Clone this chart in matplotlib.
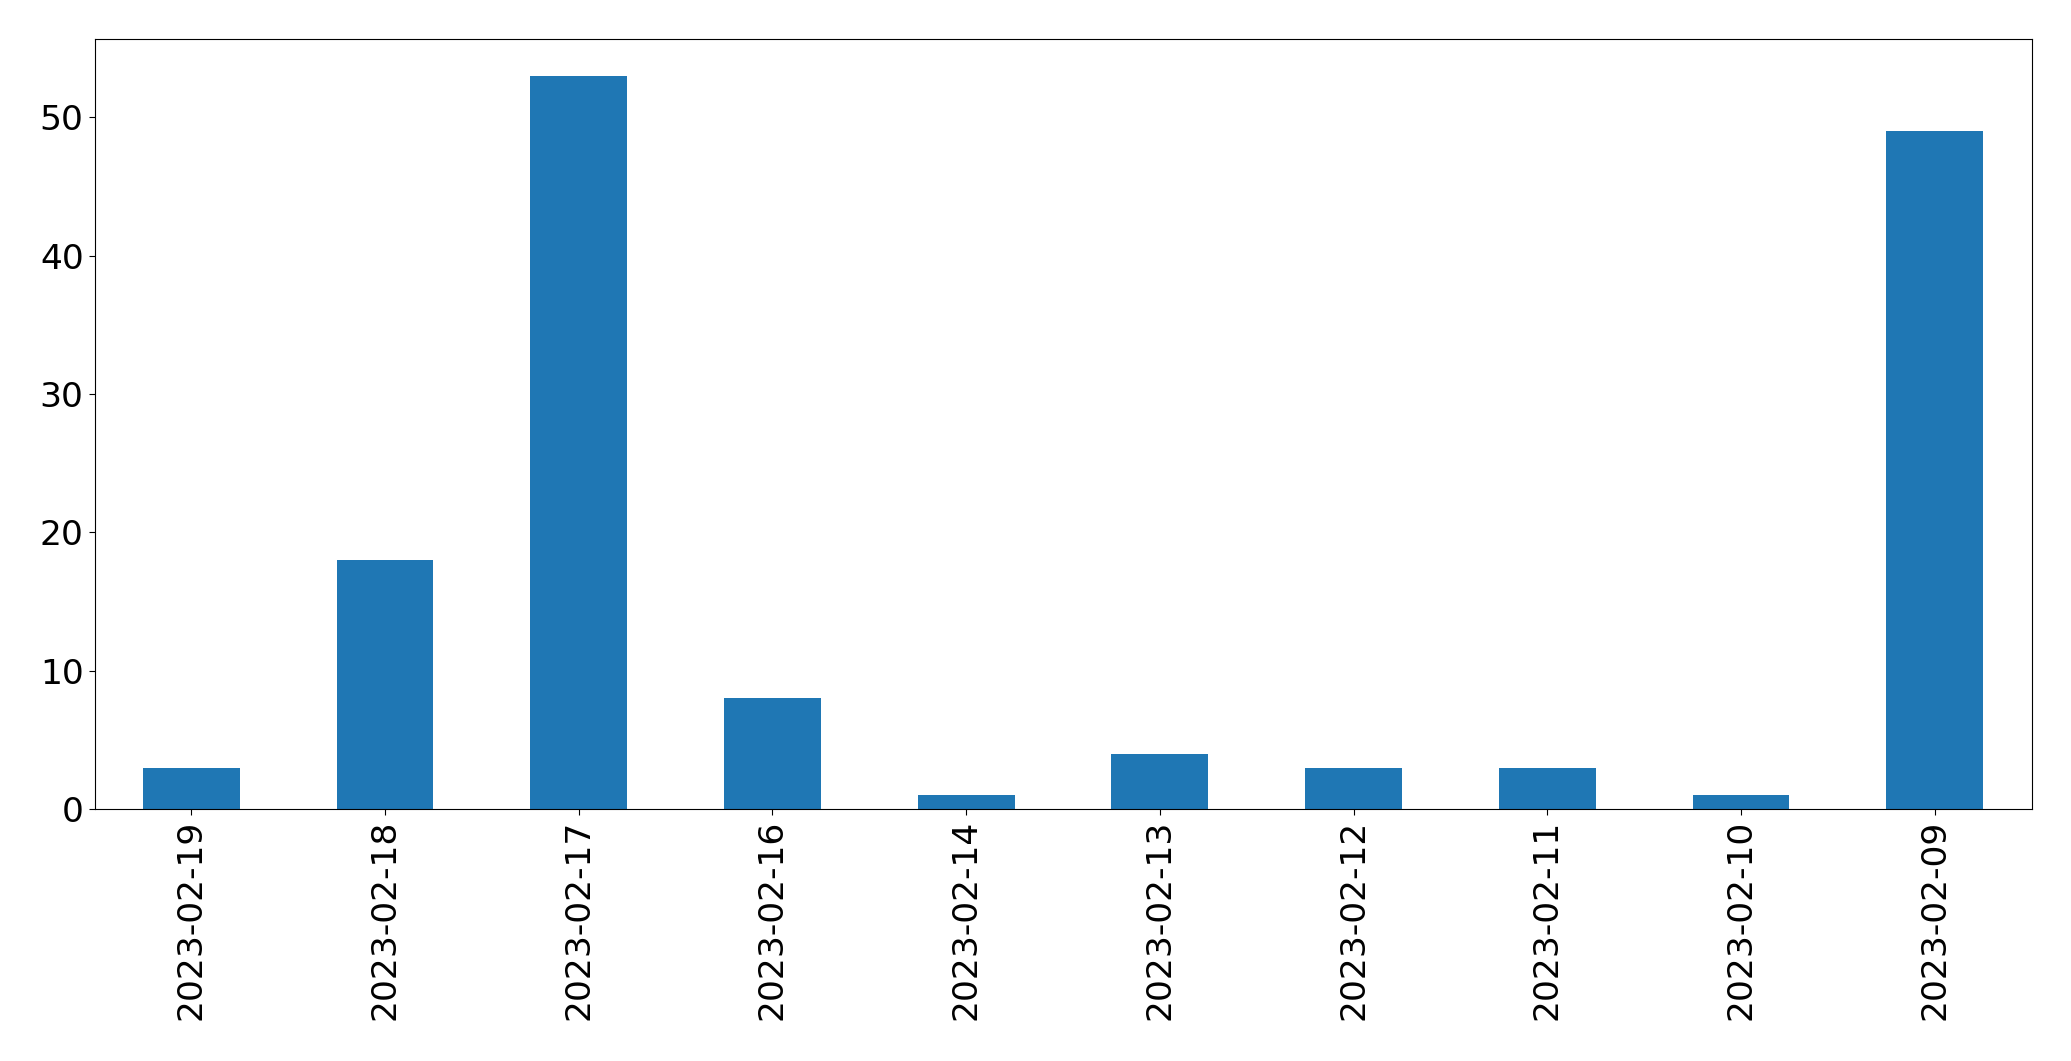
import matplotlib
matplotlib.use("Agg")
import matplotlib.pyplot as plt
import numpy as np

dates = ["2023-02-19", "2023-02-18", "2023-02-17", "2023-02-16", "2023-02-14",
         "2023-02-13", "2023-02-12", "2023-02-11", "2023-02-10", "2023-02-09"]
counts = [3, 18, 53, 8, 1, 4, 3, 3, 1, 49]

W, H = 2071, 1061
fig = plt.figure(figsize=(W / 100, H / 100), dpi=100)
l, r, b, t = 94.5, 2031.5, 809, 39.3
ax = fig.add_axes([l / W, 1 - b / H, (r - l) / W, (b - t) / H])

x = np.arange(len(dates))
ax.bar(x, counts, width=0.5, color="#1f77b4")
ax.set_xlim(-0.5, len(dates) - 0.5)
ax.set_ylim(0, max(counts) * 1.05)
ax.set_xticks(x)
ax.set_xticklabels(dates, rotation=90)
ax.set_yticks([0, 10, 20, 30, 40, 50])
ax.tick_params(labelsize=24.8, length=4.3)

fig.savefig("out.png", dpi=100)
